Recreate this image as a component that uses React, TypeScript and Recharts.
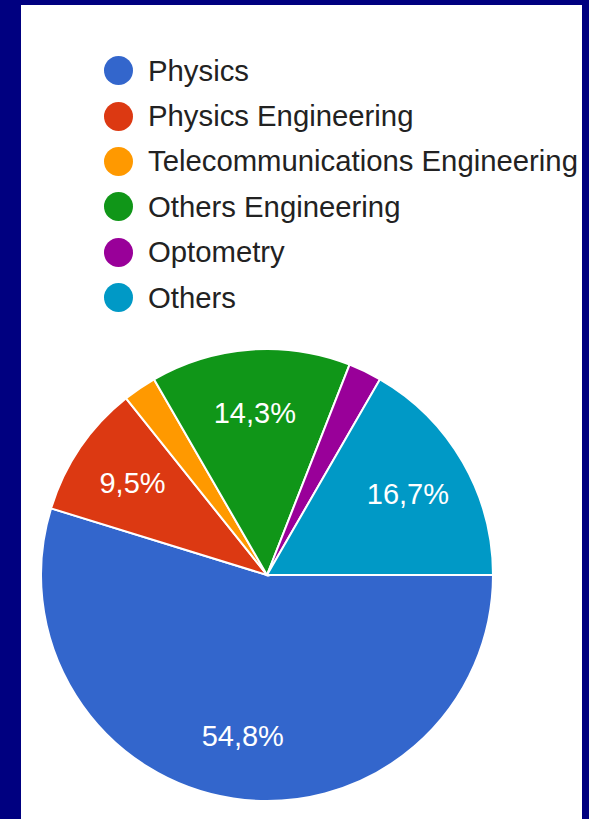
import { Pie, PieChart, Cell, Legend } from "recharts"

const CATEGORIES = ['Physics', 'Physics Engineering', 'Telecommunications Engineering', 'Others Engineering', 'Optometry', 'Others'];
const COUNTS = [23, 4, 1, 6, 1, 7];
const COLORS = ['#3366cc', '#dc3912', '#ff9900', '#109618', '#990099', '#0099c6'];

const data = CATEGORIES.map((name, i) => ({ name, value: COUNTS[i] }));

const RADIAN = Math.PI / 180;

function renderLabel({ cx, cy, midAngle, outerRadius, percent }: any) {
  if (percent < 0.05) return null;
  const r = outerRadius * 0.72;
  const x = cx + r * Math.cos(-midAngle * RADIAN);
  const y = cy + r * Math.sin(-midAngle * RADIAN);
  return (
    <text x={x} y={y} fill="#ffffff" textAnchor="middle" dominantBaseline="central"
      fontSize={29} fontFamily="'Liberation Sans', Arial, sans-serif">
      {(percent * 100).toFixed(1).replace('.', ',') + '%'}
    </text>
  );
}

function LegendList() {
  return (
    <div style={{ fontFamily: "'Liberation Sans', Arial, sans-serif", fontSize: 29.3, color: '#222' }}>
      {CATEGORIES.map((name, i) => (
        <div key={name} style={{ display: 'flex', alignItems: 'center', height: 45.4, whiteSpace: 'nowrap' }}>
          <span style={{ width: 29, height: 29, borderRadius: '50%', background: COLORS[i], marginRight: 15, flexShrink: 0 }} />
          <span>{name}</span>
        </div>
      ))}
    </div>
  );
}

export default function App() {
  return (
    <div style={{ position: 'fixed', left: 0, top: 0, width: 589, height: 819, background: '#000080' }}>
      <div style={{ position: 'absolute', left: 21, top: 5, width: 561, height: 814, background: '#ffffff' }}>
        <PieChart width={561} height={814} margin={{ top: 0, right: 0, bottom: 0, left: 0 }}>
          <Legend content={<LegendList />} layout="vertical" verticalAlign="top" align="left"
            wrapperStyle={{ top: 43, left: 83, width: 0, height: 0, overflow: 'visible' }} />
          <Pie data={data} dataKey="value" nameKey="name" cx={246} cy={570} outerRadius={226}
            startAngle={0} endAngle={-360} stroke="#ffffff" strokeWidth={2}
            label={renderLabel} labelLine={false} isAnimationActive={false}>
            {data.map((entry, index) => (
              <Cell key={`cell-${index}`} fill={COLORS[index % COLORS.length]} />
            ))}
          </Pie>
        </PieChart>
      </div>
    </div>
  )
}
